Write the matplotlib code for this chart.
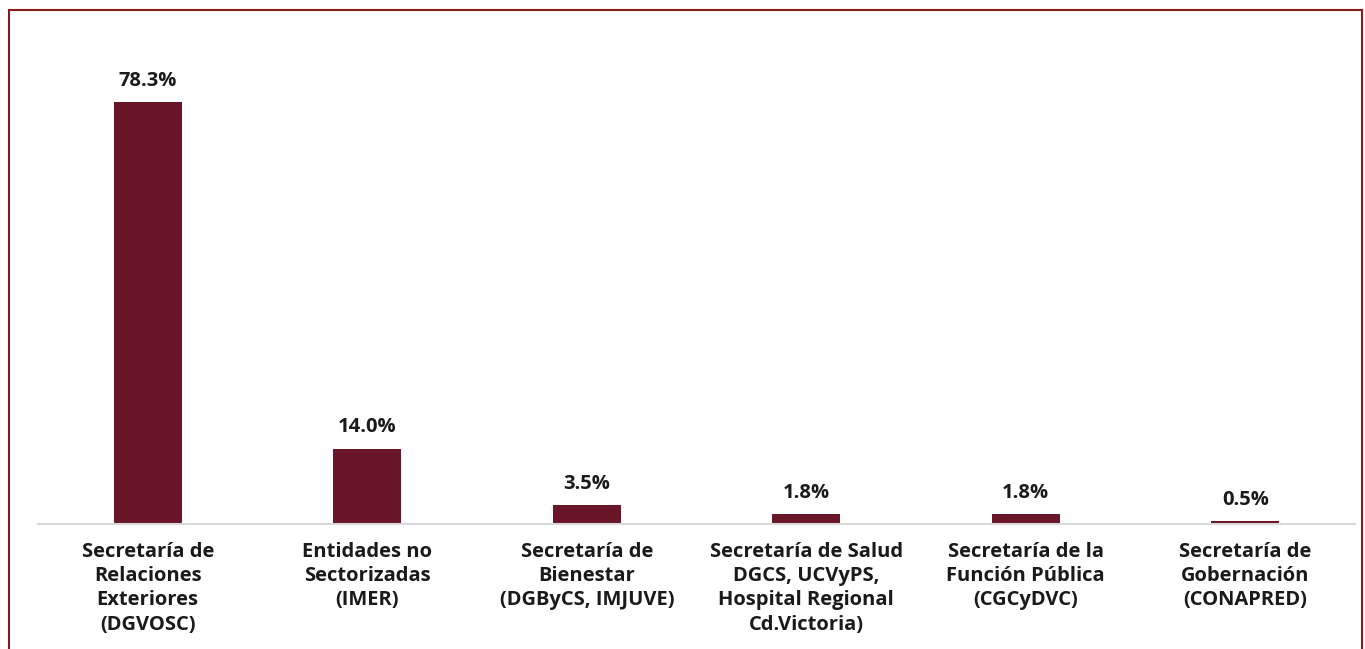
import matplotlib
matplotlib.use("Agg")
import matplotlib.pyplot as plt
from matplotlib.patches import Rectangle

categories = [
    "Secretaría de\nRelaciones\nExteriores\n(DGVOSC)",
    "Entidades no\nSectorizadas\n(IMER)",
    "Secretaría de\nBienestar\n(DGByCS, IMJUVE)",
    "Secretaría de Salud\nDGCS, UCVyPS,\nHospital Regional\nCd.Victoria)",
    "Secretaría de la\nFunción Pública\n(CGCyDVC)",
    "Secretaría de\nGobernación\n(CONAPRED)",
]
values = [78.3, 14.0, 3.5, 1.8, 1.8, 0.5]
value_labels = ["78.3%", "14.0%", "3.5%", "1.8%", "1.8%", "0.5%"]

W, H = 1365, 649
fig = plt.figure(figsize=(W / 100, H / 100), dpi=100)
font = "Open Sans"

ax = fig.add_axes([38 / W, (H - 524) / H, (1355 - 38) / W, (524 - 30) / H])
x = list(range(len(values)))
bar_color = "#6A1629"
ax.bar(x, values, width=0.31, color=bar_color)
ax.set_xlim(-0.5, len(values) - 0.5)
ax.set_ylim(0, (524 - 30) / (422 / 78.3))

for xi, v, lab in zip(x, values, value_labels):
    ax.annotate(lab, (xi, v), xytext=(0, 8), textcoords="offset points",
                ha="center", va="bottom", fontsize=14.5, fontweight="bold",
                family=font, color="#1a1a1a")

for s in ["top", "right", "left"]:
    ax.spines[s].set_visible(False)
ax.spines["bottom"].set_color("#D9D9D9")
ax.spines["bottom"].set_linewidth(1.5)
ax.set_yticks([])
ax.set_xticks(x)
ax.set_xticklabels(categories, fontsize=14.5, fontweight="bold", family=font,
                   color="#1a1a1a", linespacing=1.28, va="top")
ax.tick_params(axis="x", length=0, pad=13)

frame = Rectangle((9 / W, -0.1), (1362 - 9) / W, (H - 10) / H + 0.1,
                  transform=fig.transFigure, fill=False,
                  edgecolor="#8B1A1A", linewidth=1.5, clip_on=False)
fig.patches.append(frame)

fig.savefig("out.png", dpi=100)
